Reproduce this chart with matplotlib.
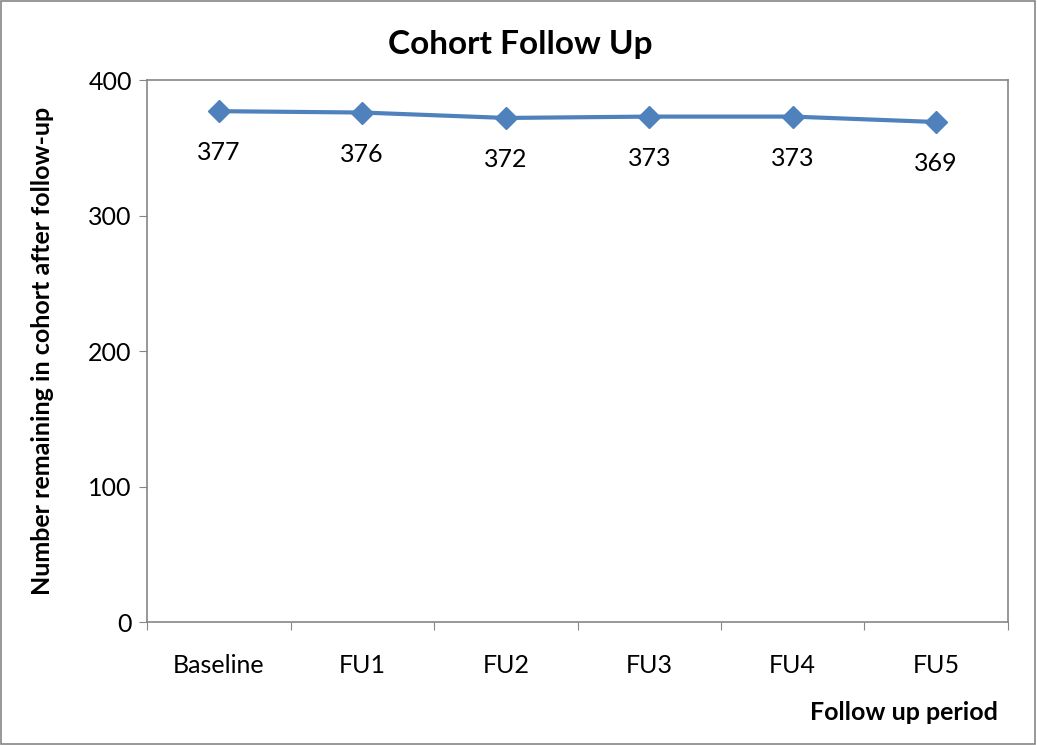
import matplotlib
matplotlib.use('Agg')
import matplotlib.pyplot as plt
from matplotlib.patches import Rectangle

periods = ['Baseline', 'FU1', 'FU2', 'FU3', 'FU4', 'FU5']
remaining = [377, 376, 372, 373, 373, 369]
y_ticks = [0, 100, 200, 300, 400]

plt.rcParams['font.family'] = ['Lato', 'DejaVu Sans']

fig = plt.figure(figsize=(10.37, 7.45), dpi=100)
ax = fig.add_axes([0.1418, 0.1651, 0.8302, 0.7275])

x = range(len(periods))
ax.plot(x, remaining, color='#4F81BD', linewidth=3, marker='D', markersize=11,
        markeredgecolor='#4F81BD', markerfacecolor='#4F81BD', zorder=3)

# value labels under each point
for xi, v in zip(x, remaining):
    ax.annotate(str(v), (xi, v), xytext=(0, -30), textcoords='offset points',
                ha='center', va='center', fontsize=18)

ax.set_xlim(-0.5, len(periods) - 0.5)
ax.set_ylim(0, 400)
ax.set_yticks(y_ticks)
ax.tick_params(axis='y', labelsize=18, length=6, color='#868686', direction='out', pad=5)

# category labels centred, ticks on the boundaries
ax.set_xticks([i - 0.5 for i in range(len(periods) + 1)])
ax.set_xticklabels([])
ax.set_xticks(list(x), minor=True)
ax.set_xticklabels(periods, minor=True)
ax.tick_params(axis='x', which='major', length=6, color='#868686', direction='out')
ax.tick_params(axis='x', which='minor', length=0, labelsize=18, pad=23)

for s in ax.spines.values():
    s.set_color('#868686')
    s.set_linewidth(1.2)

# title is centred on the whole chart, not the plot area
fig.text(0.502, 0.94, 'Cohort Follow Up', ha='center', va='center', fontsize=24, fontweight='bold')
ax.set_ylabel('Number remaining in cohort after follow-up', fontsize=18, fontweight='bold', labelpad=25)
fig.text(0.962, 0.044, 'Follow up period', ha='right', va='center', fontsize=18, fontweight='bold')

# outer chart border
fig.patches.append(Rectangle((0.001, 0.002), 0.997, 0.996, transform=fig.transFigure,
                             fill=False, edgecolor='#868686', linewidth=1.2))

plt.savefig('out.png', dpi=100)
plt.close()
